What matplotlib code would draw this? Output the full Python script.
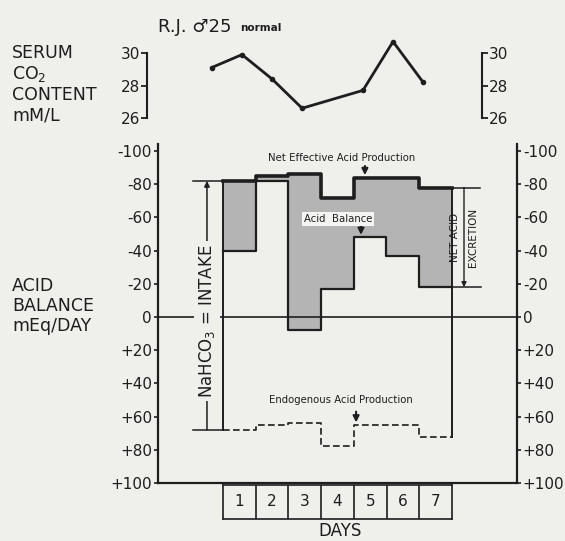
import numpy as np
import matplotlib.pyplot as plt

# acid balance data (mEq/day, negative = acid, plotted upward)
days = [1, 2, 3, 4, 5, 6, 7]
net_effective = [-82, -85, -86, -72, -84, -84, -78]
net_excretion = [-40, -82, 8, -17, -48, -37, -18]
endogenous = [68, 65, 64, 78, 65, 65, 72]
intake_top = -82
intake_bottom = 68

# serum CO2 (mM/L), sampled at day positions
co2_x = [-0.35, 0.58, 1.5, 2.42, 4.28, 5.2, 6.12]
co2_vals = [29.1, 29.9, 28.4, 26.6, 27.7, 30.7, 28.2]

acid_ticks = [-100, -80, -60, -40, -20, 0, 20, 40, 60, 80, 100]
acid_labels = ['-100', '-80', '-60', '-40', '-20', '0', '+20', '+40', '+60', '+80', '+100']
co2_ticks = [26, 28, 30]

BG = '#efefec'
INK = '#1e1e1e'
FILL = '#b4b4b4'

W, H = 565, 541


def fx(px):
    return px / W


def fy(py):
    return 1 - py / H


def main():
    plt.rcParams['font.family'] = ['DejaVu Sans']
    fig = plt.figure(figsize=(W / 100, H / 100), dpi=100, facecolor=BG)

    # ---- main acid balance panel
    ax = fig.add_axes([fx(157.6), fy(483), (517.3 - 157.6) / W, (483 - 144.4) / H])
    ax.set_facecolor('none')
    ax.set_xlim(-2, 9)
    ax.set_ylim(100, -104)
    ax.spines['top'].set_visible(False)
    for s in ['left', 'right', 'bottom']:
        ax.spines[s].set_linewidth(1.6)
        ax.spines[s].set_color(INK)
    ax.set_xticks([])
    ax.set_yticks(acid_ticks)
    ax.set_yticklabels(acid_labels)
    ax.tick_params(axis='y', left=True, right=True, labelright=True, direction='out',
                   length=3, width=1.2, labelsize=11, colors=INK, pad=1)

    edges = np.arange(len(days) + 1)
    eff = np.append(net_effective, net_effective[-1])
    exc = np.append(net_excretion, net_excretion[-1])
    endo = np.append(endogenous, endogenous[-1])

    ax.fill_between(edges, eff, exc, step='post', color=FILL, lw=0, zorder=1)
    ax.step(edges, exc, where='post', color=INK, lw=1.6, zorder=3)
    ax.step(edges, eff, where='post', color=INK, lw=2.6, zorder=4)
    ax.step(edges, endo, where='post', color=INK, lw=1.2, ls=(0, (4, 2)), zorder=3)

    # zero line
    ax.plot([-2, 9], [0, 0], color=INK, lw=1.2, zorder=2)

    # box sides
    ax.plot([0, 0], [net_effective[0], endogenous[0]], color=INK, lw=1.4, zorder=3)
    ax.plot([7, 7], [net_effective[-1], endogenous[-1]], color=INK, lw=1.4, zorder=3)

    # intake bracket
    ax.plot([-0.92, 0], [intake_top, intake_top], color=INK, lw=1.1)
    ax.plot([-0.92, 0], [intake_bottom, intake_bottom], color=INK, lw=1.1)
    ax.annotate('', xy=(-0.49, intake_top), xytext=(-0.49, intake_bottom),
                arrowprops=dict(arrowstyle='-|>', lw=1.1, color=INK, mutation_scale=8,
                                shrinkA=0, shrinkB=0))
    ax.text(-0.49, 2.4, 'NaHCO$_3$ = INTAKE', rotation=90, ha='center', va='center',
            fontsize=12, color=INK, zorder=6,
            bbox=dict(facecolor=BG, edgecolor='none', pad=2))

    # net acid excretion bracket
    ax.plot([7, 7.86], [net_effective[-1], net_effective[-1]], color=INK, lw=1.1)
    ax.plot([7, 7.9], [net_excretion[-1], net_excretion[-1]], color=INK, lw=1.1)
    ax.annotate('', xy=(7.37, net_excretion[-1]), xytext=(7.37, net_effective[-1]),
                arrowprops=dict(arrowstyle='-|>', lw=1.0, color=INK, mutation_scale=7,
                                shrinkA=0, shrinkB=0))
    ax.text(7.37, -48, 'NET ACID\nEXCRETION', rotation=90, ha='center', va='center',
            fontsize=7.5, color=INK, linespacing=1.9, zorder=6)

    # curve labels
    ax.text(3.62, -96, 'Net Effective Acid Production', ha='center', va='center',
            fontsize=7.3, color=INK)
    ax.annotate('', xy=(4.34, net_effective[4] - 1.5), xytext=(4.34, -91),
                arrowprops=dict(arrowstyle='-|>', lw=1.5, color=INK, mutation_scale=9,
                                shrinkA=0, shrinkB=0))
    ax.text(3.52, -59, 'Acid  Balance', ha='center', va='center', fontsize=7.3,
            color=INK, zorder=6,
            bbox=dict(facecolor='#f4f4f2', edgecolor='none', pad=1.5))
    ax.annotate('', xy=(4.22, net_excretion[4] - 1.5), xytext=(4.22, -55),
                arrowprops=dict(arrowstyle='-|>', lw=1.5, color=INK, mutation_scale=9,
                                shrinkA=0, shrinkB=0))
    ax.text(3.62, 50, 'Endogenous Acid Production', ha='center', va='center',
            fontsize=7.3, color=INK)
    ax.annotate('', xy=(4.07, endogenous[4] - 1.5), xytext=(4.07, 57),
                arrowprops=dict(arrowstyle='-|>', lw=1.5, color=INK, mutation_scale=9,
                                shrinkA=0, shrinkB=0))

    # ---- serum CO2 panel
    ax2 = fig.add_axes([fx(147), fy(118), (482 - 147) / W, (118 - 53) / H])
    ax2.set_facecolor('none')
    ax2.set_xlim((147 - 223) / 32.7, (482 - 223) / 32.7)
    ax2.set_ylim(26, 30)
    ax2.spines['top'].set_visible(False)
    ax2.spines['bottom'].set_visible(False)
    for s in ['left', 'right']:
        ax2.spines[s].set_linewidth(1.5)
        ax2.spines[s].set_color(INK)
    ax2.set_xticks([])
    ax2.set_yticks(co2_ticks)
    ax2.tick_params(axis='y', left=True, right=True, labelright=True, direction='out',
                    length=4, width=1.3, labelsize=11, colors=INK, pad=1)
    ax2.plot(co2_x, co2_vals, color=INK, lw=2.0, marker='o', ms=3, clip_on=False)

    # ---- day boxes
    ax3 = fig.add_axes([fx(223), fy(519), (452 - 223) / W, (519 - 485) / H])
    ax3.set_facecolor('none')
    ax3.set_xlim(0, 7)
    ax3.set_ylim(0, 1)
    ax3.set_xticks([])
    ax3.set_yticks([])
    for s in ax3.spines.values():
        s.set_linewidth(1.2)
        s.set_color(INK)
    for i, d in enumerate(days):
        if i > 0:
            ax3.axvline(i, color=INK, lw=1.2)
        ax3.text(i + 0.5, 0.5, str(d), ha='center', va='center', fontsize=11, color=INK)

    # ---- figure texts
    fig.text(fx(340), fy(531), 'DAYS', ha='center', va='center', fontsize=12, color=INK)
    fig.text(fx(12), fy(84), 'SERUM\nCO$_2$\nCONTENT\nmM/L', ha='left', va='center',
             fontsize=12.5, linespacing=1.15, color=INK)
    fig.text(fx(12), fy(306), 'ACID\nBALANCE\nmEq/DAY', ha='left', va='center',
             fontsize=12.5, linespacing=1.15, color=INK)
    fig.text(fx(158), fy(27), 'R.J. \u264225', ha='left', va='center', fontsize=13,
             color=INK)
    fig.text(fx(240), fy(28), 'normal', ha='left', va='center', fontsize=7.5,
             fontweight='bold', color=INK)

    fig.savefig('out.png', dpi=100, facecolor=BG)


if __name__ == '__main__':
    main()
